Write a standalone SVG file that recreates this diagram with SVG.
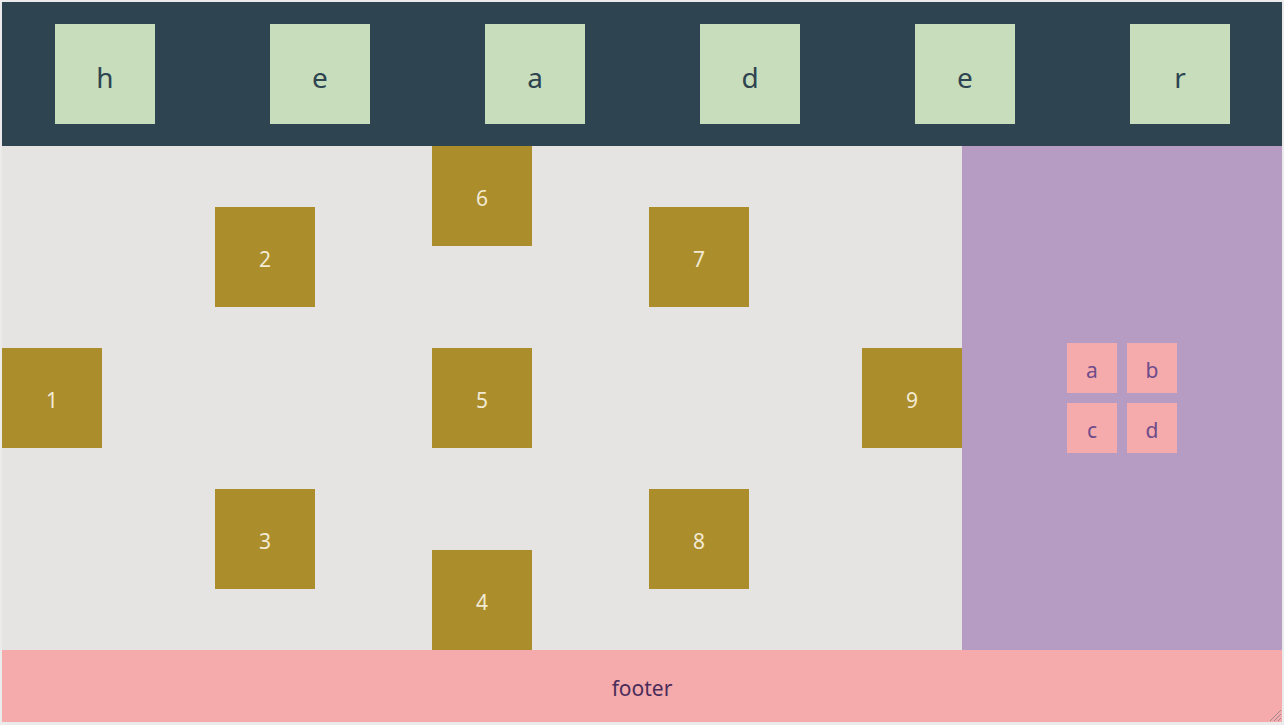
<svg xmlns="http://www.w3.org/2000/svg" width="1284" height="725" viewBox="0 0 1284 725">
<style>
.hb{fill:#c8ddbc}
.ht{font-family:"Noto Sans","Open Sans",sans-serif;font-size:28px;fill:#2e4450;text-anchor:middle;dominant-baseline:central}
.gb{fill:#ab8d2c}
.gt{font-family:"Noto Sans","Open Sans",sans-serif;font-size:21px;fill:#f2ead2;text-anchor:middle;dominant-baseline:central}
.pb{fill:#f5aaab}
.pt{font-family:"Noto Sans","Open Sans",sans-serif;font-size:21px;fill:#6e4c8c;text-anchor:middle;dominant-baseline:central}
.ft{font-family:"Noto Sans","Open Sans",sans-serif;font-size:21px;fill:#4a2d5a;text-anchor:middle;dominant-baseline:central}
</style>
<rect x="0" y="0" width="1284" height="725" fill="#ebebeb"/>
<rect x="2" y="2" width="1280" height="144" fill="#2e4450"/>
<rect x="2" y="146" width="960" height="504" fill="#e6e4e2"/>
<rect x="962" y="146" width="320" height="504" fill="#b69cc2"/>
<rect x="2" y="650" width="1280" height="72" fill="#f5aaab"/>
<g id="header">
<g id="h1"><rect class="hb" x="55" y="24" width="100" height="100"/><text class="ht" x="105" y="76.5">h</text></g>
<g id="h2"><rect class="hb" x="270" y="24" width="100" height="100"/><text class="ht" x="320" y="76.5">e</text></g>
<g id="h3"><rect class="hb" x="485" y="24" width="100" height="100"/><text class="ht" x="535" y="76.5">a</text></g>
<g id="h4"><rect class="hb" x="700" y="24" width="100" height="100"/><text class="ht" x="750" y="76.5">d</text></g>
<g id="h5"><rect class="hb" x="915" y="24" width="100" height="100"/><text class="ht" x="965" y="76.5">e</text></g>
<g id="h6"><rect class="hb" x="1130" y="24" width="100" height="100"/><text class="ht" x="1180" y="76.5">r</text></g>
</g>
<g id="main">
<g id="n1"><rect class="gb" x="2" y="348" width="100" height="100"/><text class="gt" x="52" y="399.5">1</text></g>
<g id="n2"><rect class="gb" x="215" y="207" width="100" height="100"/><text class="gt" x="265" y="258.5">2</text></g>
<g id="n3"><rect class="gb" x="215" y="489" width="100" height="100"/><text class="gt" x="265" y="540.5">3</text></g>
<g id="n4"><rect class="gb" x="432" y="550" width="100" height="100"/><text class="gt" x="482" y="601.5">4</text></g>
<g id="n5"><rect class="gb" x="432" y="348" width="100" height="100"/><text class="gt" x="482" y="399.5">5</text></g>
<g id="n6"><rect class="gb" x="432" y="146" width="100" height="100"/><text class="gt" x="482" y="197.5">6</text></g>
<g id="n7"><rect class="gb" x="649" y="207" width="100" height="100"/><text class="gt" x="699" y="258.5">7</text></g>
<g id="n8"><rect class="gb" x="649" y="489" width="100" height="100"/><text class="gt" x="699" y="540.5">8</text></g>
<g id="n9"><rect class="gb" x="862" y="348" width="100" height="100"/><text class="gt" x="912" y="399.5">9</text></g>
</g>
<g id="sidebar">
<g id="sa"><rect class="pb" x="1067" y="343" width="50" height="50"/><text class="pt" x="1092" y="370">a</text></g>
<g id="sb"><rect class="pb" x="1127" y="343" width="50" height="50"/><text class="pt" x="1152" y="370">b</text></g>
<g id="sc"><rect class="pb" x="1067" y="403" width="50" height="50"/><text class="pt" x="1092" y="430">c</text></g>
<g id="sd"><rect class="pb" x="1127" y="403" width="50" height="50"/><text class="pt" x="1152" y="430">d</text></g>
</g>
<g id="footer"><text class="ft" x="642" y="688">footer</text></g>
<g id="connectors"/>
<g stroke="#a08890" stroke-width="1">
<line x1="1270" y1="721" x2="1281" y2="710"/>
<line x1="1274" y1="721" x2="1281" y2="714"/>
<line x1="1278" y1="721" x2="1281" y2="718"/>
</g>
</svg>
